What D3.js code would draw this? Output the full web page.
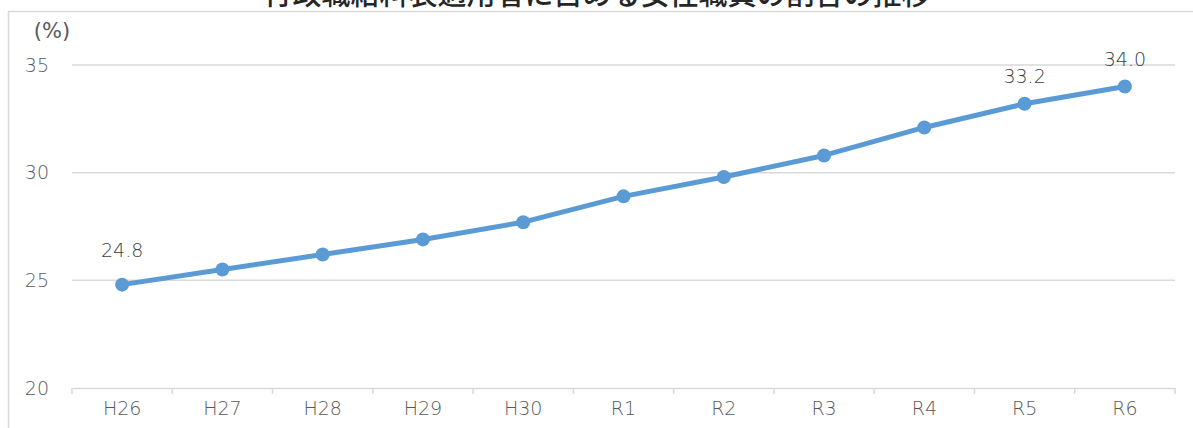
<!DOCTYPE html>
<html><head><meta charset="utf-8">
<script src="https://cdn.jsdelivr.net/npm/d3@7"></script>
<style>body{margin:0;background:#fff;} svg{display:block;}</style>
</head><body>
<svg id="chart" width="1193" height="428"></svg>
<script>
const title = "行政職給料表適用者に占める女性職員の割合の推移";
const categories = ["H26","H27","H28","H29","H30","R1","R2","R3","R4","R5","R6"];
const values = [24.8,25.5,26.2,26.9,27.7,28.9,29.8,30.8,32.1,33.2,34.0];
const labeled = ["H26","R5","R6"];
const yTicks = [20,25,30,35];
const yUnit = "(%)";

const svg = d3.select("#chart");
const tfont = "'Noto Sans CJK JP', 'Noto Sans', sans-serif";
const font = "'DejaVu Sans', sans-serif";
const W = 1193, H = 428;
const m = {left:72, right:1175, top:65, bottom:388};

// outer frame
svg.append("path").attr("d", `M8.5,${H} V11.5 H${W}`).attr("fill","none").attr("stroke","#d9d9d9").attr("stroke-width",1.5);

svg.append("text").attr("x",597).attr("y",5).attr("text-anchor","middle")
  .attr("font-family",tfont).attr("font-weight",500).attr("font-size",29).attr("fill","#262626").text(title);

const x = d3.scaleBand().domain(categories).range([m.left,m.right]);
const y = d3.scaleLinear().domain([20,35]).range([m.bottom,m.top]);

// gridlines
svg.append("g").selectAll("line").data(yTicks.filter(t=>t>20)).join("line")
  .attr("x1",m.left).attr("x2",m.right).attr("y1",d=>y(d)).attr("y2",d=>y(d))
  .attr("stroke","#d9d9d9").attr("stroke-width",1.5);

// y axis labels
const yAxis = svg.append("g").attr("transform",`translate(${m.left},0)`)
  .call(d3.axisLeft(y).tickValues(yTicks).tickSize(0).tickPadding(23));
yAxis.select(".domain").remove();
yAxis.selectAll("text").attr("font-family",font).attr("font-weight",300).attr("font-size",19).attr("fill","#595959");

svg.append("text").attr("x",52).attr("y",38).attr("text-anchor","middle")
  .attr("font-family",font).attr("font-weight",400).attr("font-size",21).attr("fill","#595959").text(yUnit);

// x axis
const xAxis = svg.append("g").attr("transform",`translate(0,${m.bottom})`)
  .call(d3.axisBottom(x).tickSize(0).tickPadding(14));
xAxis.select(".domain").attr("stroke","#d9d9d9").attr("stroke-width",1.5);
xAxis.selectAll("text").attr("font-family",font).attr("font-weight",300).attr("font-size",19).attr("fill","#595959");
const bounds = categories.map(c=>x(c)).concat([x(categories[categories.length-1])+x.bandwidth()]);
svg.append("g").selectAll("line").data(bounds).join("line")
  .attr("x1",d=>d).attr("x2",d=>d).attr("y1",m.bottom).attr("y2",m.bottom+6)
  .attr("stroke","#d9d9d9").attr("stroke-width",1.5);

const cx = c => x(c)+x.bandwidth()/2;
const data = categories.map((c,i)=>({c,v:values[i]}));
svg.append("path").datum(data)
  .attr("d", d3.line().x(d=>cx(d.c)).y(d=>y(d.v)))
  .attr("fill","none").attr("stroke","#5b9bd5").attr("stroke-width",5).attr("stroke-linejoin","round");
svg.append("g").selectAll("circle").data(data).join("circle")
  .attr("cx",d=>cx(d.c)).attr("cy",d=>y(d.v)).attr("r",7).attr("fill","#5b9bd5");

svg.append("g").selectAll("text").data(data.filter(d=>labeled.includes(d.c))).join("text")
  .attr("x",d=>cx(d.c)).attr("y",d=>y(d.v)-(d.c==="H26"?28:21)).attr("text-anchor","middle")
  .attr("font-family",font).attr("font-weight",300).attr("font-size",19).attr("fill","#404040")
  .text(d=>d.v.toFixed(1));
</script>
</body></html>
